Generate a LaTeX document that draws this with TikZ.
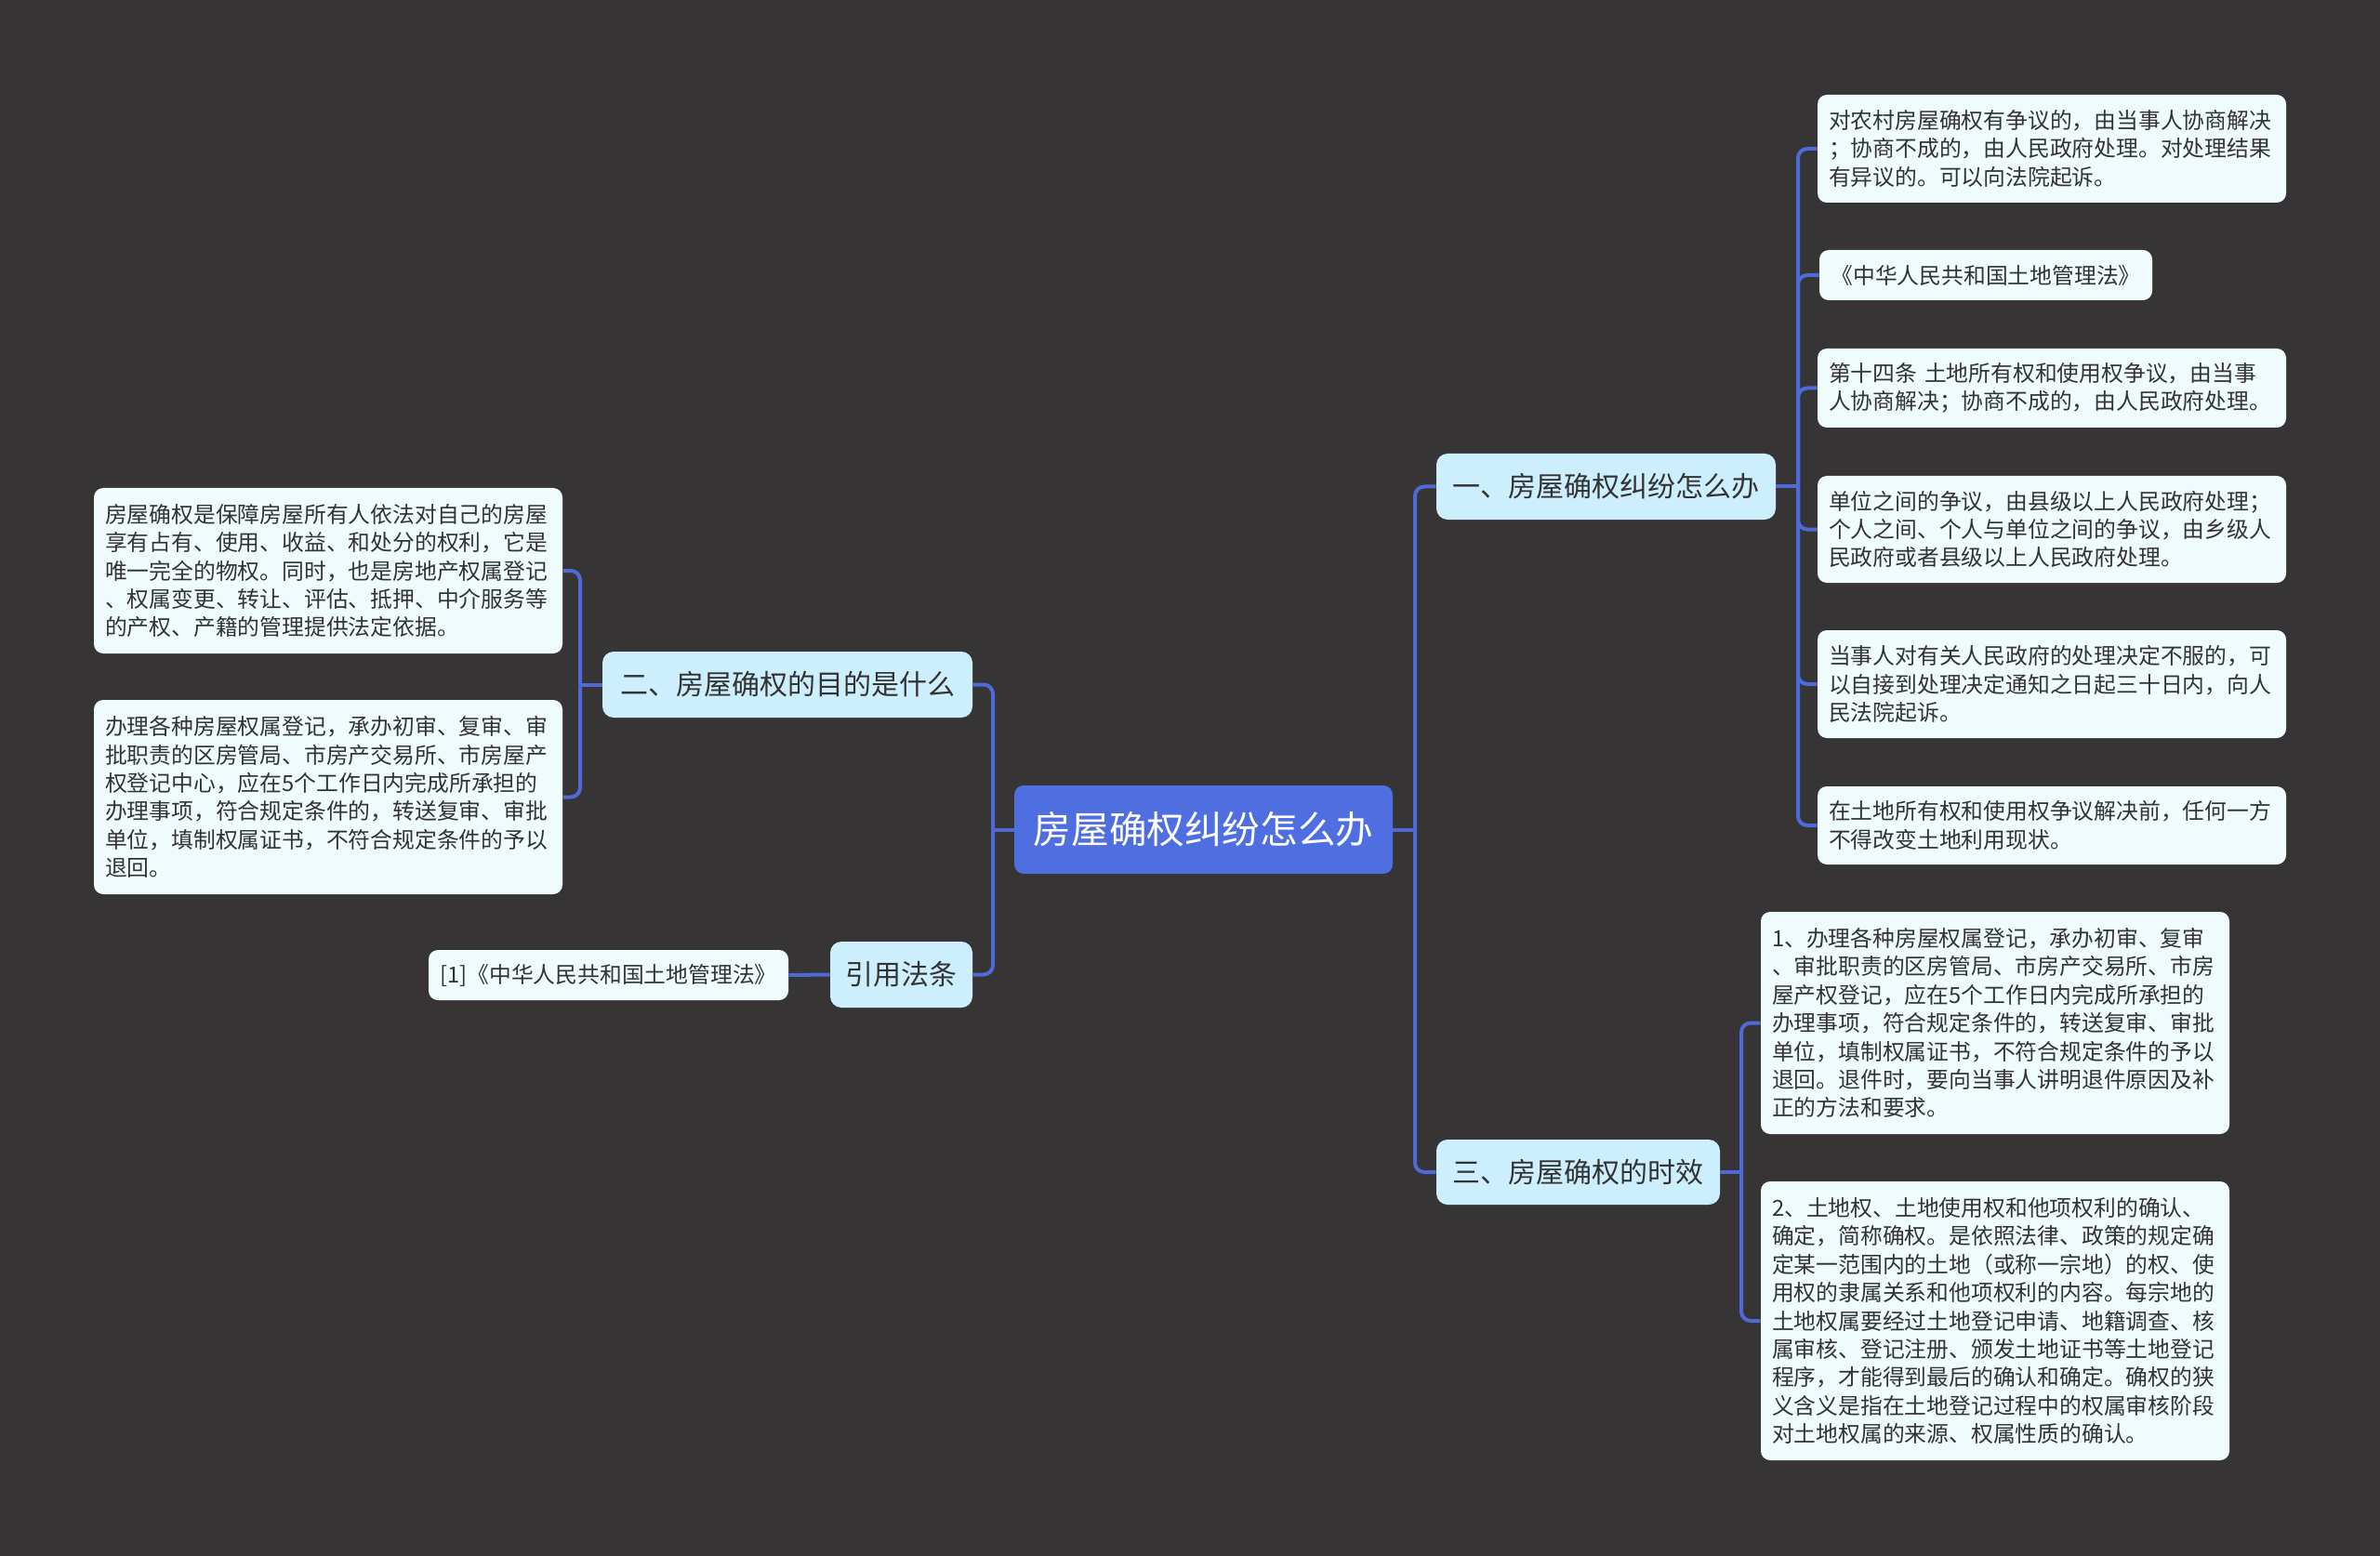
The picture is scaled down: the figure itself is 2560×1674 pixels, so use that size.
\documentclass[tikz,border=0pt]{standalone}
\usepackage{fontspec}
\setmainfont{Noto Sans CJK SC}
\definecolor{bgc}{HTML}{363435}
\definecolor{linec}{HTML}{4F6AD8}
\definecolor{rootc}{HTML}{4F6EE0}
\definecolor{lvc}{HTML}{CDEEFC}
\definecolor{leafc}{HTML}{F0FBFD}
\definecolor{txt}{HTML}{333333}
\tikzset{
  rootbox/.style={draw=none, fill=rootc, rounded corners=5pt, text=white,
    font=\fontsize{20.3}{24}\selectfont, inner sep=0pt},
  lvbox/.style={draw=none, fill=lvc, rounded corners=6pt, text=txt,
    font=\fontsize{15}{18}\selectfont, inner sep=0pt, minimum height=35.5pt},
  leafbox/.style={draw=none, fill=leafc, rounded corners=5pt, text=txt,
    font=\fontsize{11.9}{15.2}\selectfont, inner xsep=6pt, inner ysep=0pt},
  multi/.style={text width=240pt, align=left},
  conn/.style={draw=linec, line width=2pt, rounded corners=5pt},
}
\begin{document}
\begin{tikzpicture}[x=0.5pt,y=-0.5pt]
\useasboundingbox (0,0) rectangle (2560,1674);
\fill[bgc] (0,0) rectangle (2560,1674);

% root
\node[rootbox, minimum width=203.5pt, minimum height=47.5pt] (root) at (1294.5,892.5) {房屋确权纠纷怎么办};

% level 1
\node[lvbox, minimum width=199pt] (b2) at (847,736.5) {二、房屋确权的目的是什么};
\node[lvbox, minimum width=76.5pt] (bref) at (969.5,1048.5) {引用法条};
\node[lvbox, minimum width=182.5pt] (b1) at (1727.5,523.5) {一、房屋确权纠纷怎么办};
\node[lvbox, minimum width=152.5pt, minimum height=35pt] (b3) at (1697.5,1261) {三、房屋确权的时效};

% left leaves
\node[leafbox, multi, minimum width=251pt, minimum height=89pt] (L1) at (353,614) {房屋确权是保障房屋所有人依法对自己的房屋\\享有占有、使用、收益、和处分的权利，它是\\唯一完全的物权。同时，也是房地产权属登记\\、权属变更、转让、评估、抵押、中介服务等\\的产权、产籍的管理提供法定依据。};
\node[leafbox, multi, minimum width=251pt, minimum height=104.5pt] (L2) at (353,857.5) {办理各种房屋权属登记，承办初审、复审、审\\批职责的区房管局、市房产交易所、市房屋产\\权登记中心，应在5个工作日内完成所承担的\\办理事项，符合规定条件的，转送复审、审批\\单位，填制权属证书，不符合规定条件的予以\\退回。};
\node[leafbox, minimum width=193.5pt, minimum height=27pt] (ref) at (654.5,1049) {[1]《中华人民共和国土地管理法》};

% right leaves (branch 1)
\node[leafbox, multi, minimum width=250pt, minimum height=58pt] (R1) at (2207,160) {对农村房屋确权有争议的，由当事人协商解决\\；协商不成的，由人民政府处理。对处理结果\\有异议的。可以向法院起诉。};
\node[leafbox, minimum width=179pt, minimum height=27pt] (R2) at (2136,296) {《中华人民共和国土地管理法》};
\node[leafbox, multi, minimum width=250pt, minimum height=42.5pt] (R3) at (2207,417.5) {第十四条 土地所有权和使用权争议，由当事\\人协商解决；协商不成的，由人民政府处理。};
\node[leafbox, multi, minimum width=250pt, minimum height=57.5pt] (R4) at (2207,569.5) {单位之间的争议，由县级以上人民政府处理；\\个人之间、个人与单位之间的争议，由乡级人\\民政府或者县级以上人民政府处理。};
\node[leafbox, multi, minimum width=250pt, minimum height=58pt] (R5) at (2207,736) {当事人对有关人民政府的处理决定不服的，可\\以自接到处理决定通知之日起三十日内，向人\\民法院起诉。};
\node[leafbox, multi, minimum width=250pt, minimum height=42pt] (R6) at (2207,888) {在土地所有权和使用权争议解决前，任何一方\\不得改变土地利用现状。};

% right leaves (branch 3)
\node[leafbox, multi, minimum width=251pt, minimum height=119.5pt] (R7) at (2146,1100.5) {1、办理各种房屋权属登记，承办初审、复审\\、审批职责的区房管局、市房产交易所、市房\\屋产权登记，应在5个工作日内完成所承担的\\办理事项，符合规定条件的，转送复审、审批\\单位，填制权属证书，不符合规定条件的予以\\退回。退件时，要向当事人讲明退件原因及补\\正的方法和要求。};
\node[leafbox, multi, minimum width=251pt, minimum height=150pt] (R8) at (2146,1421) {2、土地权、土地使用权和他项权利的确认、\\确定，简称确权。是依照法律、政策的规定确\\定某一范围内的土地（或称一宗地）的权、使\\用权的隶属关系和他项权利的内容。每宗地的\\土地权属要经过土地登记申请、地籍调查、核\\属审核、登记注册、颁发土地证书等土地登记\\程序，才能得到最后的确认和确定。确权的狭\\义含义是指在土地登记过程中的权属审核阶段\\对土地权属的来源、权属性质的确认。};

% junctions
\coordinate (jL) at (1068,892.5);
\coordinate (jR) at (1522,892.5);
\coordinate (j1) at (1934,523.5);
\coordinate (j3) at (1873,1261);
\coordinate (j2) at (624,736.5);

% connectors
\draw[conn] (root.west) -- (jL);
\draw[conn] (jL) |- (b2.east);
\draw[conn] (jL) |- (bref.east);
\draw[conn] (root.east) -- (jR);
\draw[conn] (jR) |- (b1.west);
\draw[conn] (jR) |- (b3.west);
\draw[conn] (b1.east) -- (j1);
\foreach \n in {R1,R2,R3,R4,R5,R6} \draw[conn] (j1) |- (\n.west);
\draw[conn] (b3.east) -- (j3);
\draw[conn] (j3) |- (R7.west);
\draw[conn] (j3) |- (R8.west);
\draw[conn] (b2.west) -- (j2);
\draw[conn] (j2) |- (L1.east);
\draw[conn] (j2) |- (L2.east);
\draw[conn] (bref.west) -- (ref.east);
\end{tikzpicture}
\end{document}
